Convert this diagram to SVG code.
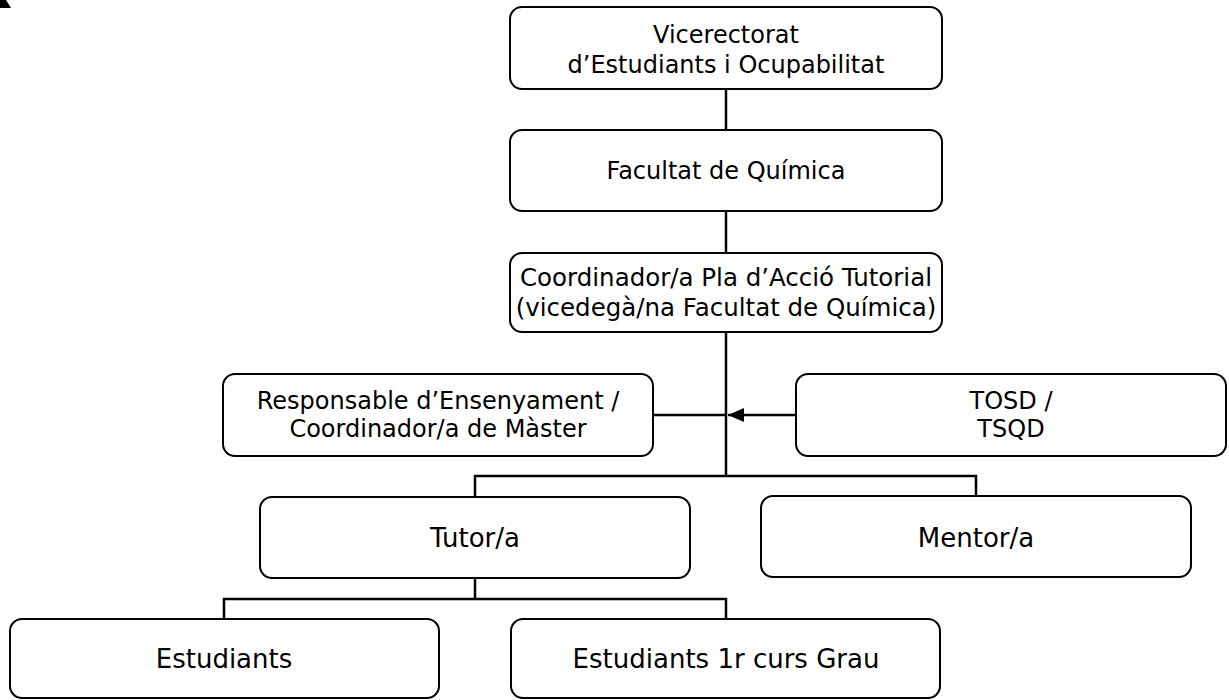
<svg xmlns="http://www.w3.org/2000/svg" width="1229" height="700" viewBox="0 0 1229 700">
<defs>
<style>
.box{fill:#fff;stroke:#000;stroke-width:2}
.t{font-family:"DejaVu Sans","Verdana",sans-serif;font-size:24px;fill:#000;text-anchor:middle}
.tl{font-family:"DejaVu Sans","Verdana",sans-serif;font-size:26px;fill:#000;text-anchor:middle}
.c{fill:none;stroke:#000;stroke-width:2.5}
</style>
<marker id="arr" markerWidth="16" markerHeight="14" refX="16" refY="7" orient="auto" markerUnits="userSpaceOnUse">
<path d="M0,0 L16,7 L0,14 Z" fill="#000"/>
</marker>
</defs>
<rect width="1229" height="700" fill="#fff"/>
<polygon points="0,0 6,0 11,8 0,8" fill="#000"/>
<g id="connectors">
<path class="c" d="M726,89 V130"/>
<path class="c" d="M726,211 V253"/>
<path class="c" d="M726,332 V476"/>
<path class="c" d="M475,497 V476 H976 V496"/>
<path class="c" d="M653,415 H726"/>
<path class="c" d="M796,415 H728" marker-end="url(#arr)"/>
<path class="c" d="M475,578 V599"/>
<path class="c" d="M224,619 V599 H726 V619"/>
</g>
<g id="vicerectorat">
<rect class="box" x="510" y="7" width="432" height="82" rx="12"/>
<text class="t" x="726" y="43">Vicerectorat</text>
<text class="t" x="726" y="73">d’Estudiants i Ocupabilitat</text>
</g>
<g id="facultat">
<rect class="box" x="510" y="130" width="432" height="81" rx="12"/>
<text class="t" x="726" y="179">Facultat de Química</text>
</g>
<g id="coordinador">
<rect class="box" x="510" y="253" width="432" height="79" rx="12"/>
<text class="t" x="726" y="286" style="font-size:24.5px">Coordinador/a Pla d’Acció Tutorial</text>
<text class="t" x="726" y="316" style="font-size:24.5px">(vicedegà/na Facultat de Química)</text>
</g>
<g id="responsable">
<rect class="box" x="223" y="374" width="430" height="82" rx="12"/>
<text class="t" x="438" y="409">Responsable d’Ensenyament /</text>
<text class="t" x="438" y="437">Coordinador/a de Màster</text>
</g>
<g id="tosd">
<rect class="box" x="796" y="374" width="430" height="82" rx="12"/>
<text class="t" x="1011" y="409">TOSD /</text>
<text class="t" x="1011" y="437">TSQD</text>
</g>
<g id="tutor">
<rect class="box" x="260" y="497" width="430" height="81" rx="12"/>
<text class="tl" x="475" y="547">Tutor/a</text>
</g>
<g id="mentor">
<rect class="box" x="761" y="496" width="430" height="81" rx="12"/>
<text class="tl" x="976" y="547">Mentor/a</text>
</g>
<g id="estudiants">
<rect class="box" x="10" y="619" width="429" height="79" rx="12"/>
<text class="tl" x="224" y="668">Estudiants</text>
</g>
<g id="estudiants1r">
<rect class="box" x="511" y="619" width="429" height="79" rx="12"/>
<text class="tl" x="726" y="668">Estudiants 1r curs Grau</text>
</g>
</svg>
